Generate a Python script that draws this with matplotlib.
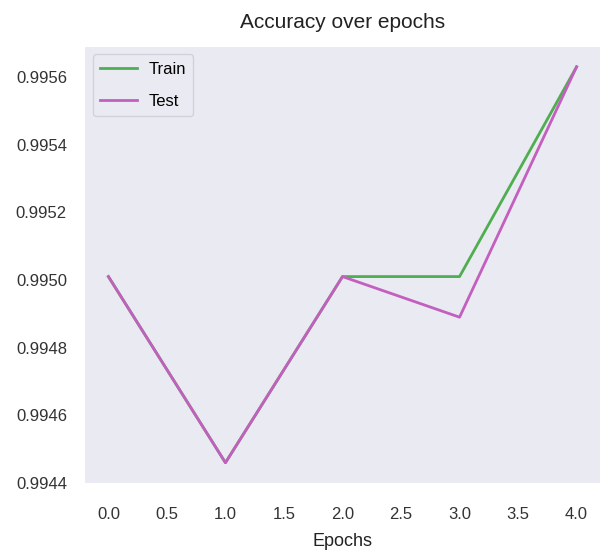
import matplotlib
matplotlib.use("Agg")
import matplotlib.pyplot as plt

epochs = [0, 1, 2, 3, 4]
train_acc = [0.99501, 0.99446, 0.99501, 0.99501, 0.99563]
test_acc = [0.99501, 0.99446, 0.99501, 0.99489, 0.99563]
yticks = [0.9944, 0.9946, 0.9948, 0.9950, 0.9952, 0.9954, 0.9956]
xticks = [0, 0.5, 1, 1.5, 2, 2.5, 3, 3.5, 4]

plt.rcParams['font.family'] = ['Liberation Sans', 'DejaVu Sans']

fig = plt.figure(figsize=(6.05, 5.54), dpi=100)
ax = fig.add_axes([85/605, 1-483/554, 515/605, (483-47)/554])
ax.set_facecolor('#EAEAF2')
for s in ax.spines.values():
    s.set_visible(False)

ax.plot(epochs, train_acc, color='#4fae4f', lw=2, label='Train')
ax.plot(epochs, test_acc, color='#c25fbf', lw=2, label='Test')

ax.set_yticks(yticks)
ax.set_yticklabels([f"{v:.4f}" for v in yticks])
ax.set_xticks(xticks)
ax.tick_params(axis='x', length=0, labelsize=12, colors='#333333', pad=17)
ax.tick_params(axis='y', length=0, labelsize=12, colors='#333333', pad=13)
ax.set_xlabel('Epochs', fontsize=13, color='#222222', labelpad=8)
ax.set_title('Accuracy over epochs', fontsize=15, color='#222222', pad=14)
leg = ax.legend(loc='upper left', fontsize=12, facecolor='#EAEAF2', edgecolor='#d0d0d8',
                framealpha=0.9, labelspacing=1.0, borderpad=0.45,
                handlelength=2.2, handletextpad=0.7, borderaxespad=0.45)
fig.savefig('out.png', dpi=100)
